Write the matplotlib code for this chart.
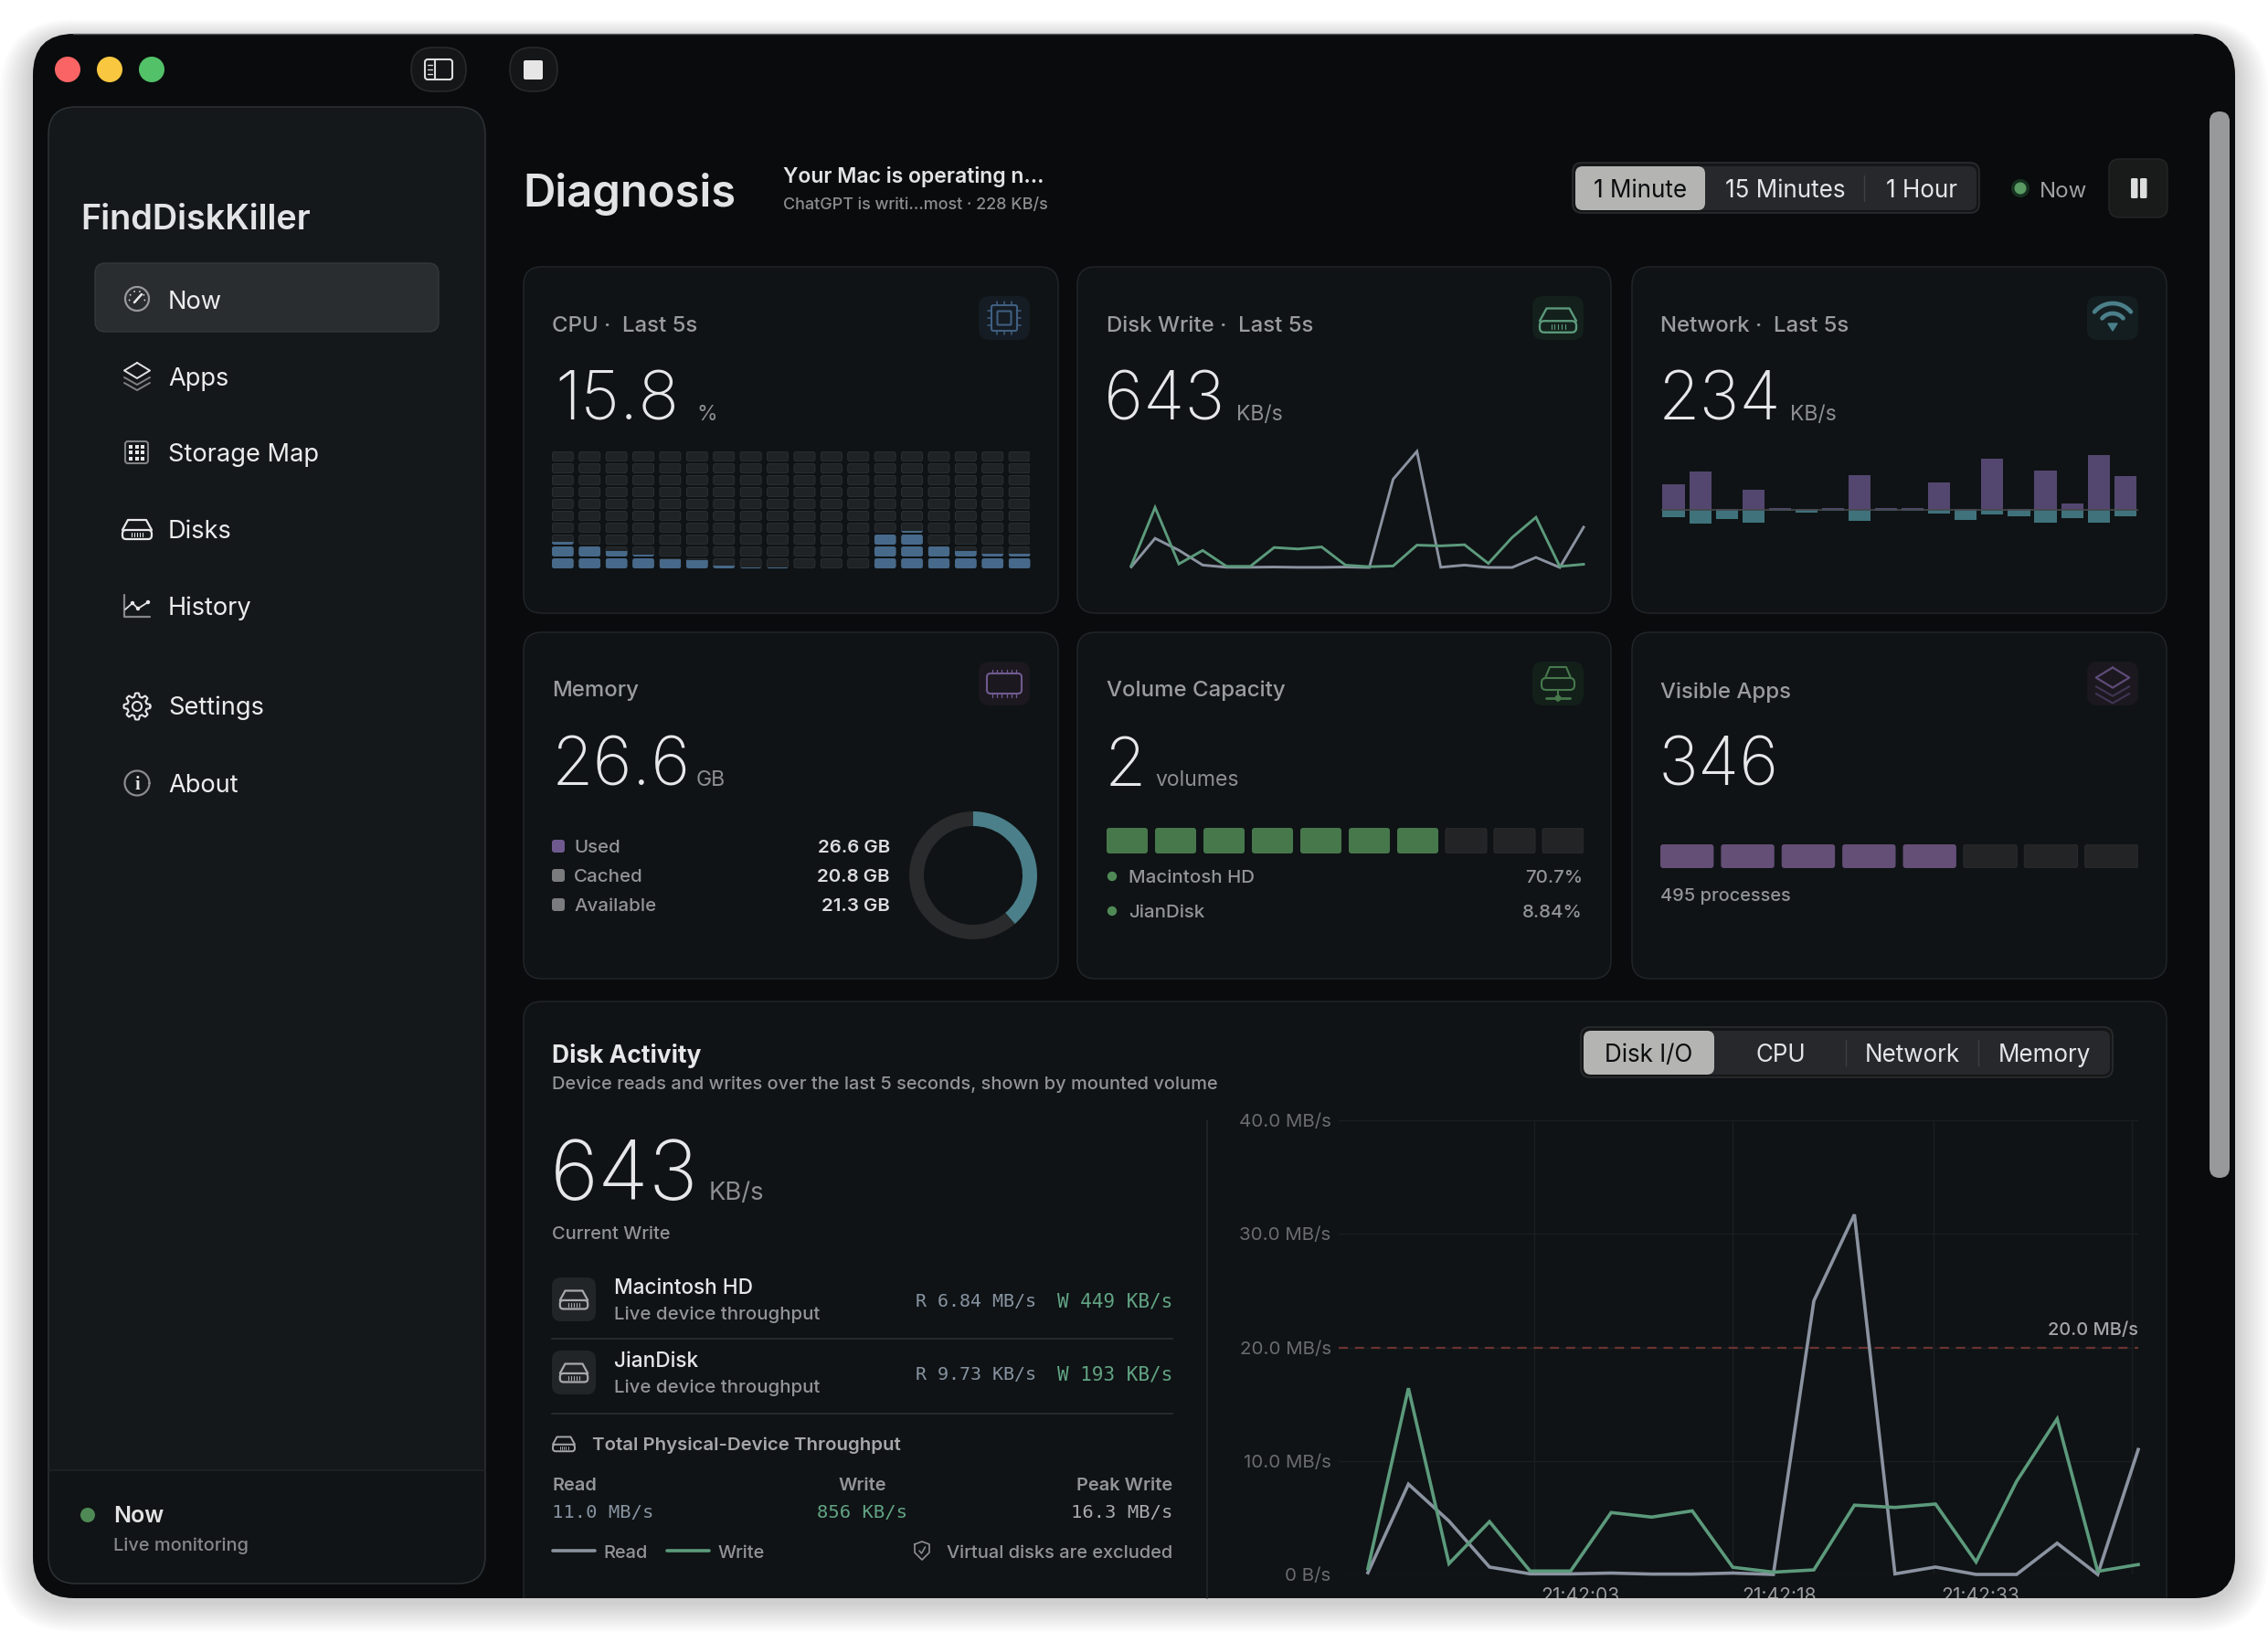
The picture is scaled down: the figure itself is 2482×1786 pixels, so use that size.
import numpy as np
import matplotlib
matplotlib.use("Agg")
import matplotlib.pyplot as plt
from matplotlib.patches import FancyBboxPatch, Circle, Rectangle, Polygon
from matplotlib.transforms import Bbox

plt.rcParams['font.family'] = ['Inter', 'Noto Sans', 'DejaVu Sans']

W, H = 2482, 1786

# ---------------------------
# Data
# ---------------------------
read_mbs = [0.15, 7.95, 4.7, 0.65, 0.05, 0.05, 0.12, 0.03, 0.03, 0.12,
            0.0, 24.1, 31.7, 0.05, 0.65, 0.0, 0.0, 2.75, 0.0, 11.0]
write_mbs = [0.5, 16.4, 0.95, 4.65, 0.3, 0.3, 5.45, 5.05, 5.6, 0.63,
             0.2, 0.4, 6.1, 5.9, 6.2, 1.1, 8.2, 13.7, 0.27, 0.87]
net_up = [28, 42, 1, 22, 1.3, 1, 1.3, 38, 1.3, 1.7, 30, 1, 56, 1, 43, 7, 60, 37]
net_down = [8, 15, 10, 14, 1.7, 3, 1.7, 12, 1.7, 1.7, 4.3, 11, 5.7, 7.7, 14.3, 9, 14, 7]
cpu_levels = [2.3, 2.0, 1.55, 1.15, 0.9, 0.85, 0.3, 0.12, 0.05, 0.03,
              0.03, 0.0, 3.0, 3.15, 2.0, 1.55, 1.3, 1.25]
memory_names = ["Used", "Cached", "Available"]
memory_gb = [26.6, 20.8, 21.3]
volume_segments = [1, 1, 1, 1, 1, 1, 1, 0, 0, 0]
apps_segments = [1, 1, 1, 1, 1, 0, 0, 0]
y_ticks = [0, 10, 20, 30, 40]
y_tick_labels = ["0 B/s", "10.0 MB/s", "20.0 MB/s", "30.0 MB/s", "40.0 MB/s"]
time_grid = [4.1, 9.0, 13.95, 18.85]
time_label_pos = [5.24, 10.14, 15.1]
time_labels = ["21:42:03", "21:42:18", "21:42:33"]
threshold_mbs = 20

# Colores
C_WIN = "#0a0b0d"
C_SIDE = "#15181b"
C_FOOT = "#111416"
C_CARD = "#0f1315"
C_EDGE = "#1f2326"
C_TXT = "#e4e5e6"
C_DIM = "#929495"
C_GREY = "#8b93a1"
C_GREEN = "#5c9a7c"
C_VOL = "#47784c"
C_PURPLE = "#644f77"
C_TEAL = "#4b7f8a"
C_BLUE = "#47698a"

fig = plt.figure(figsize=(W / 100, H / 100), dpi=100, facecolor="white")
bg = fig.add_axes([0, 0, 1, 1])
bg.set_xlim(0, W)
bg.set_ylim(H, 0)
bg.axis('off')


def rr(x0, y0, x1, y1, r, fc, ec='none', lw=0.8, clip=None, z=1, ax=bg):
    p = FancyBboxPatch((x0, y0), x1 - x0, y1 - y0,
                       boxstyle=f"round,pad=0,rounding_size={r}",
                       fc=fc, ec=ec, lw=lw, zorder=z)
    ax.add_patch(p)
    if clip is not None:
        p.set_clip_path(clip)
    return p


def txt(x, y, s, size, color=C_TXT, weight='normal', ha='left', family=None, z=6):
    kw = {'family': family} if family else {}
    return bg.text(x, y + 1, s, fontsize=size * 0.72, color=color, fontweight=weight,
                   ha=ha, va='baseline', zorder=z, **kw)


def line(xs, ys, color, lw=1.6, z=5):
    bg.plot(xs, ys, color=color, lw=lw, zorder=z, solid_capstyle='round',
            solid_joinstyle='round')


def px_axes(x0, y0, x1, y1, off=True):
    ax = fig.add_axes([x0 / W, 1 - y1 / H, (x1 - x0) / W, (y1 - y0) / H])
    ax.patch.set_alpha(0)
    if off:
        ax.axis('off')
    return ax


# ---------------------------
# Iconos
# ---------------------------
def circle(cx, cy, r, color, lw=1.6, z=5):
    t = np.linspace(0, 2 * np.pi, 60)
    line(cx + r * np.cos(t), cy + r * np.sin(t), color, lw, z)


def drive(cx, cy, k, color, lw=1.6):
    line(cx + k * np.array([-16, -10, 10, 16]), cy + k * np.array([1, -10, -10, 1]), color, lw)
    rr(cx - 16 * k, cy + k, cx + 16 * k, cy + 11 * k, 4 * k, 'none', color, lw, z=5)
    for d in (-6, -3, 0, 3, 6):
        line([cx + d * k, cx + d * k], [cy + 4 * k, cy + 8 * k], color, lw * 0.5)


def chip(cx, cy, color):
    rr(cx - 14, cy - 14, cx + 14, cy + 14, 2, 'none', color, 1.5, z=5)
    rr(cx - 7.5, cy - 7.5, cx + 7.5, cy + 7.5, 1, 'none', color, 1.5, z=5)
    for d in (-8, 0, 8):
        line([cx + d, cx + d], [cy - 18, cy - 14], color, 1.1)
        line([cx + d, cx + d], [cy + 14, cy + 18], color, 1.1)
        line([cx - 18, cx - 14], [cy + d, cy + d], color, 1.1)
        line([cx + 14, cx + 18], [cy + d, cy + d], color, 1.1)


def mem_icon(cx, cy, color):
    rr(cx - 19, cy - 11, cx + 19, cy + 11, 4, 'none', color, 1.5, z=5)
    for d in (-13, -8, -3, 3, 8, 13):
        line([cx + d, cx + d], [cy - 15, cy - 11], color, 1)
        line([cx + d, cx + d], [cy + 11, cy + 15], color, 1)


def wifi(cx, cy, color):
    for r, lw in ((26, 3.4), (15, 3.4)):
        t = np.radians(np.linspace(-140, -40, 30))
        line(cx + r * np.cos(t), cy + 11 + r * np.sin(t), color, lw)
    bg.add_patch(Polygon([[cx - 5, cy + 7], [cx + 5, cy + 7], [cx, cy + 15]], fc=color, ec=color, zorder=5))


def stack(cx, cy, k, color, lw=1.5, fade="#777"):
    line(cx + k * np.array([0, 14, 0, -14, 0]), cy + k * np.array([-15, -6.5, 2, -6.5, -15]), color, lw)
    line(cx + k * np.array([-14, 0, 14]), cy + k * np.array([1, 9, 1]), fade, lw)
    line(cx + k * np.array([-14, 0, 14]), cy + k * np.array([7, 15, 7]), fade, lw)


def gear(cx, cy, color):
    t = np.linspace(0, 2 * np.pi, 240)
    r = 12.6 + 1.9 * np.clip(2 * np.cos(8 * t), -1, 1)
    line(cx + r * np.cos(t), cy + r * np.sin(t), color, 1.5)
    circle(cx, cy, 5, color, 1.5)


# sombra suave
for d in range(36, 0, -3):
    rr(36 - d, 37 - d * 0.6 + 6, 2446 + d, 1749 + d * 0.9 + 4, 45 + d, 'black', z=0.5).set_alpha(0.014)

window = rr(36, 37, 2446, 1749, 45, C_WIN, z=1)
line([80, 2400], [37, 37], "#55585a", 1.0, z=1.1)

# ---------------------------
# Barra de título
# ---------------------------
for cx, col in zip((74, 120, 166), ("#fb6464", "#f9c740", "#52c168")):
    bg.add_patch(Circle((cx, 76), 14, fc=col, ec='none', zorder=3))
rr(450, 52, 510, 100, 24, "#141617", "#27292b", 1.2, z=3)
rr(465, 65, 495, 87, 3, 'none', "#dddddd", 1.5, z=5)
line([476, 476], [65, 87], "#dddddd", 1.5)
for yy in (71, 76, 81):
    line([468, 473], [yy, yy], "#dddddd", 1)
rr(558, 52, 610, 100, 24, "#141617", "#27292b", 1.2, z=3)
rr(573, 66, 594, 87, 2, "#e6e6e6", z=5)

# ---------------------------
# Sidebar
# ---------------------------
side = rr(53, 117, 531, 1733, 30, C_SIDE, z=2)
foot = Rectangle((53, 1609), 478, 130, fc=C_FOOT, ec='none', zorder=2.1)
bg.add_patch(foot)
foot.set_clip_path(side)
rr(53, 117, 531, 1733, 30, 'none', "#2d3236", 1.1, z=2.2)
line([53, 531], [1609, 1609], "#202427", 1.2, z=2.2)
txt(88, 250, "FindDiskKiller", 37.8, "#e3e4e5", 'semibold')
rr(104, 288, 480, 363, 11, "#2a2d30", "#383b3e", 0.9, z=3)

nav_items = ["Now", "Apps", "Storage Map", "Disks", "History", "Settings", "About"]
nav_base = [337, 421, 504, 588, 672, 781, 866]
for name, yy in zip(nav_items, nav_base):
    txt(184, yy, name, 27.2, "#eceded")

# Now
circle(150, 327, 13, "#98999a", 1.6)
line([147, 155], [331, 322], "#eeeeee", 1.8)
for a in (-150, -110, -70, -30, 10, 170):
    t = np.radians(a)
    bg.add_patch(Circle((150 + 8.5 * np.cos(t), 327 + 8.5 * np.sin(t)), 0.9, fc="#dddddd", zorder=5))
stack(150, 412, 1.0, "#e2e2e2", 1.4, "#808080")
rr(137, 483, 162, 507, 3, 'none', "#808284", 1.5, z=5)
for ix in (-6.5, 0, 6.5):
    for iy in (-6.5, 0, 6.5):
        bg.add_patch(Rectangle((149.5 + ix - 2, 495 + iy - 2), 4.4, 4.4, fc="#e8e8e8", zorder=5))
drive(150, 579, 1.0, "#e8e8e8", 1.6)
line([136, 136, 164], [651, 675, 675], "#858687", 1.6)
line([137, 145, 151, 162], [667, 660, 666, 659], "#e0e0e0", 1.3)
for px, py in ((145, 660), (151, 666), (162, 659)):
    bg.add_patch(Circle((px, py), 2.2, fc="#e8e8e8", zorder=5))
gear(150, 773, "#e4e4e4")
circle(150, 857, 13.5, "#8a8b8c", 1.6)
txt(150, 863, "i", 20, "#e4e4e4", 'semibold', ha='center', family='Liberation Serif')

bg.add_patch(Circle((96, 1658), 8, fc="#4f8a56", ec='none', zorder=5))
txt(124, 1665, "Now", 25, "#e2e3e3", 'semibold')
txt(124, 1696, "Live monitoring", 20, "#85878a", 'medium')

# ---------------------------
# Cabecera
# ---------------------------
txt(572, 225, "Diagnosis", 49, "#e2e3e4", 'semibold')
txt(857, 199, "Your Mac is operating n...", 23, "#e3e4e5", 'semibold')
txt(857, 228, "ChatGPT is writi…most · 228 KB/s", 18, "#8b8d8f", 'medium')


def segmented(x0, y0, x1, y1, sel_x1, labels, centers, base, dividers):
    rr(x0, y0, x1, y1, 10, "#141617", "#2a2c2e", 1.2, z=3)
    rr(x0 + 3, y0 + 4, x1 - 3, y1 - 3, 8, "#26282b", z=3.1)
    rr(x0 + 3, y0 + 4, sel_x1, y1 - 3, 8, "#b4b5b3", z=3.2)
    for i, (lab, cx) in enumerate(zip(labels, centers)):
        txt(cx, base, lab, 26, "#0c0d0e" if i == 0 else "#e4e5e6", ha='center')
    for d in dividers:
        line([d, d], [y0 + 14, y1 - 13], "#3d3f42", 1.0)


segmented(1721, 178, 2166, 233, 1866, ["1 Minute", "15 Minutes", "1 Hour"],
          [1795, 1954, 2103], 215, [2040])
bg.add_patch(Circle((2211, 206), 10, fc="#16301f", ec='none', zorder=4))
bg.add_patch(Circle((2211, 206), 6.5, fc="#5a9a63", ec='none', zorder=5))
txt(2232, 215, "Now", 24, "#9fa1a2")
rr(2308, 174, 2372, 238, 11, "#191b1b", "#242626", 1.0, z=3)
rr(2332, 195, 2339.5, 217, 1.5, "#dedede", z=5)
rr(2342, 195, 2349.5, 217, 1.5, "#dedede", z=5)

# scrollbar
rr(2418, 122, 2440, 1289, 11, "#98999b", z=4)

# ---------------------------
# Tarjetas
# ---------------------------
card_x = [(573, 1158), (1179, 1763), (1786, 2371)]
card_y = [(292, 671), (692, 1071)]
for (y0, y1) in card_y:
    for (x0, x1) in card_x:
        rr(x0, y0, x1, y1, 20, C_CARD, "#212528", 1.1, z=2)
big = rr(573, 1096, 2371, 1800, 20, C_CARD, "#212528", 1.1, z=2)
big.set_clip_path(window)


def metric(x, title, title_base, value, unit_x, unit, base, value_x=None):
    txt(x, title_base, title, 24, "#9a9c9d", 'medium')
    txt(value_x if value_x else x, base, value, 74, "#e6e7e8", 'light')
    if unit:
        txt(unit_x, base, unit, 23, "#8c8e8f")


metric(604, "CPU ·  Last 5s", 362, "15.8", 762, "%", 459, value_x=607)
metric(1211, "Disk Write ·  Last 5s", 362, "643", 1353, "KB/s", 459, value_x=1208)
metric(1817, "Network ·  Last 5s", 362, "234", 1959, "KB/s", 459, value_x=1815)
metric(604, "Memory", 761, "26.6", 762, "GB", 859, value_x=604)
metric(1211, "Volume Capacity", 761, "2", 1264, "volumes", 859, value_x=1209)
metric(1817, "Visible Apps", 763, "346", 0, "", 859, value_x=1815)

rr(1071, 324, 1127, 372, 12, "#151c23", z=3)
rr(1677, 324, 1733, 372, 12, "#13201b", z=3)
rr(2284, 324, 2340, 372, 12, "#141e21", z=3)
rr(1071, 724, 1127, 772, 12, "#1b181f", z=3)
rr(1677, 724, 1733, 772, 12, "#13201a", z=3)
rr(2284, 724, 2340, 772, 12, "#1b181f", z=3)
chip(1099, 348, "#3f5f80")
drive(1705, 350, 1.25, C_GREEN, 1.7)
wifi(2312, 347, C_TEAL)
mem_icon(1099, 748, "#6f5a8f")
# volumen
line(1705 + np.array([-14, -9, 9, 14]), 730 + np.array([12, 0, 0, 12]), C_VOL, 1.5)
rr(1687, 742, 1723, 755, 5, 'none', C_VOL, 1.5, z=5)
line([1705, 1705], [755, 767], C_VOL, 1.5)
line([1692, 1718], [764, 764], C_VOL, 2)
bg.add_patch(Circle((1705, 764), 3.5, fc=C_VOL, zorder=5))
stack(2312, 750, 1.3, "#5e4b78", 1.6, "#3f3452")

# CPU
ax_cpu = px_axes(604, 494, 1127, 622)
ax_cpu.set_xlim(0, 523 / 29.4)
ax_cpu.set_ylim(0, 128 / 13)
cw, ch = 23 / 29.4, 10.2 / 13
ox, oy = 0.35 / 29.4, 0.4 / 13
asp = 29.4 / 13
for i, level in enumerate(cpu_levels):
    for k in range(10):
        rr(i + ox, k + oy, i + ox + cw, k + oy + ch, 2.5 / 29.4, "#1f2325", "#2e3234", 0.6,
           ax=ax_cpu).set_mutation_aspect(asp)
        frac = min(1, max(0, level - k))
        if frac > 0:
            cell = rr(i, k, i + 23.7 / 29.4, k + 11 / 13, 2.5 / 29.4, C_BLUE, ax=ax_cpu, z=2)
            cell.set_mutation_aspect(asp)
            clip = Rectangle((i, k), 23.7 / 29.4, frac * 11 / 13, transform=ax_cpu.transData)
            cell.set_clip_path(clip)

# Disk Write mini
ax_mini = px_axes(1238, 494, 1733, 621)
ax_mini.set_xlim(0, len(read_mbs) - 1)
ax_mini.set_ylim(0, max(read_mbs))
ax_mini.plot(read_mbs, color=C_GREY, lw=2.1, clip_on=False, solid_joinstyle='miter')
ax_mini.plot(write_mbs, color=C_GREEN, lw=2.1, clip_on=False, solid_joinstyle='miter')

# Network
ax_net = px_axes(1818, 490, 2340, 600)
ax_net.set_xlim(-13.5 / 29.07, 17.49)
ax_net.set_ylim(-42.3, 67.7)
idx = np.arange(len(net_up))
ax_net.bar(idx, net_up, width=0.83, color="#53476f")
ax_net.bar(idx, -np.array(net_down), width=0.83, color="#3f727b")
ax_net.axhline(0, color="#45494c", lw=1.2)

# Memory
labels_y = [932, 964, 996]
swatch = ["#6f5a8f", "#7b7c7d", "#7b7c7d"]
for name, gb, yy, col in zip(memory_names, memory_gb, labels_y, swatch):
    rr(604, yy - 13, 618, yy + 1, 3, col, z=5)
    txt(628, yy, name, 20.5, C_DIM, 'medium')
    txt(974, yy, f"{gb} GB", 20.5, "#dcddde", 'semibold', ha='right')
ax_donut = px_axes(995, 888, 1135, 1028)
ax_donut.pie(memory_gb, colors=[C_TEAL, "#2a2b2c", "#2a2b2c"], startangle=90, counterclock=False,
             radius=1.0, wedgeprops={'width': 16 / 70, 'linewidth': 0})
ax_donut.set_xlim(-1, 1)
ax_donut.set_ylim(-1, 1)


# Segmentos
def segments(x0, y0, x1, y1, values, color):
    n = len(values)
    gap = 8
    pitch = (x1 - x0 + gap) / n
    ax = px_axes(x0, y0, x1, y1)
    ax.set_xlim(0, (x1 - x0) / pitch)
    ax.set_ylim(0, 1)
    as_ = pitch / (y1 - y0)
    for i, v in enumerate(values):
        c = color if v else "#232425"
        e = 'none' if v else "#2a2b2c"
        rr(i, 0, i + 1 - gap / pitch, 1, 3 / pitch, c, e, 0.7, ax=ax).set_mutation_aspect(as_)


segments(1211, 906, 1733, 934, volume_segments, C_VOL)
segments(1817, 924, 2340, 950, apps_segments, C_PURPLE)
for name, pct, yy in (("Macintosh HD", "70.7%", 965), ("JianDisk", "8.84%", 1003)):
    bg.add_patch(Circle((1217, yy - 6), 5.2, fc="#4f8a56", zorder=5))
    txt(1235, yy, name, 20.5, C_DIM, 'medium')
    txt(1732, yy, pct, 20.5, C_DIM, 'medium', ha='right')
txt(1817, 985, "495 processes", 20, C_DIM, 'medium')

# ---------------------------
# Disk Activity
# ---------------------------
txt(604, 1162, "Disk Activity", 26.4, "#e6e7e8", 'bold')
txt(604, 1191, "Device reads and writes over the last 5 seconds, shown by mounted volume", 20, C_DIM, 'medium')
segmented(1730, 1124, 2312, 1179, 1876, ["Disk I/O", "CPU", "Network", "Memory"],
          [1804, 1949, 2093, 2237], 1161, [2020, 2165])
txt(602, 1312, "643", 91, "#e6e7e8", 'light')
txt(776, 1312, "KB/s", 27.5, "#8c8e8f")
txt(604, 1355, "Current Write", 20, C_DIM, 'medium')
line([1321, 1321], [1226, 1749], "#23272a", 1.1, z=3)

MONO = "DejaVu Sans Mono"
rows = [("Macintosh HD", "R 6.84 MB/s", "W 449 KB/s", 1415),
        ("JianDisk", "R 9.73 KB/s", "W 193 KB/s", 1495)]
for name, rd, wr, yy in rows:
    rr(604, yy - 17, 652, yy + 31, 10, "#222527", z=3)
    drive(628, yy + 7, 0.95, "#a8a9aa", 1.6)
    txt(672, yy, name, 22.6, "#e6e7e8", 'medium')
    txt(672, yy + 28, "Live device throughput", 20.4, C_DIM, 'medium')
    txt(1134, yy + 14, rd, 20, "#8793a1", ha='right', family=MONO)
    txt(1283, yy + 14, wr, 21, "#62a484", ha='right', family=MONO)
line([604, 1283], [1465, 1465], "#282b2e", 1.4)
line([604, 1283], [1547, 1547], "#282b2e", 1.4)

drive(617, 1580, 0.75, "#a6a7a8", 1.4)
txt(648, 1586, "Total Physical-Device Throughput", 20.4, "#a6a7a8", 'semibold')
txt(604, 1630, "Read", 20, C_DIM, 'semibold')
txt(944, 1630, "Write", 20, C_DIM, 'semibold', ha='center')
txt(1283, 1630, "Peak Write", 20, C_DIM, 'semibold', ha='right')
txt(604, 1660, "11.0 MB/s", 20.5, "#8793a1", family=MONO)
txt(944, 1660, "856 KB/s", 20.5, "#62a484", ha='center', family=MONO)
txt(1283, 1660, "16.3 MB/s", 20.5, "#aaabac", ha='right', family=MONO)
line([605, 651], [1697, 1697], C_GREY, 2.6)
txt(660, 1704, "Read", 20, C_DIM, 'medium')
line([730, 776], [1697, 1697], C_GREEN, 2.6)
txt(786, 1704, "Write", 20, C_DIM, 'medium')
line(1009 + np.array([-8, 0, 8, 8, 0, -8, -8]), 1697 + np.array([-7, -10, -7, 2, 10, 2, -7]), "#8e8f90", 1.2)
line(1009 + np.array([-3, -0.5, 3.5]), 1697 + np.array([0, 3, -4]), "#8e8f90", 1.1)
txt(1283, 1704, "Virtual disks are excluded", 20, C_DIM, 'medium', ha='right')

# Gráfico principal
ax = px_axes(1465, 1226, 2340, 1723, off=False)
ax.set_xlim(-0.72, 19)
ax.set_ylim(0, 40)
for s in ax.spines.values():
    s.set_visible(False)
ax.set_yticks(y_ticks)
ax.set_yticklabels(y_tick_labels)
ax.set_xticks(time_grid)
ax.set_xticklabels([])
ax.set_xticks(time_label_pos, minor=True)
ax.set_xticklabels(time_labels, minor=True)
ax.tick_params(which='both', length=0)
ax.tick_params(axis='y', labelsize=20.5 * 0.72, labelcolor="#6a6c6e", pad=6)
ax.tick_params(axis='x', which='minor', labelsize=21 * 0.72, labelcolor="#9a9b9c", pad=10)
ax.grid(True, which='major', color="#1a1e20", lw=1.0)
ax.set_axisbelow(True)
for t in ax.get_xticklabels(minor=True):
    t.set_clip_on(True)
    t.set_clip_box(Bbox([[0, H - 1749], [W, H]]))
ax.axhline(threshold_mbs, color="#6b3331", lw=1.6, ls=(0, (4.5, 3.5)))
ax.plot(read_mbs, color=C_GREY, lw=2.6, clip_on=False, solid_joinstyle='miter')
ax.plot(write_mbs, color=C_GREEN, lw=2.6, clip_on=False, solid_joinstyle='miter')
ax.text(19, threshold_mbs + 1.05, "20.0 MB/s", ha='right', va='baseline', fontsize=20 * 0.72,
        color="#a5a6a7", fontweight='medium')

fig.savefig("out.png", dpi=100, facecolor="white")
plt.close()
